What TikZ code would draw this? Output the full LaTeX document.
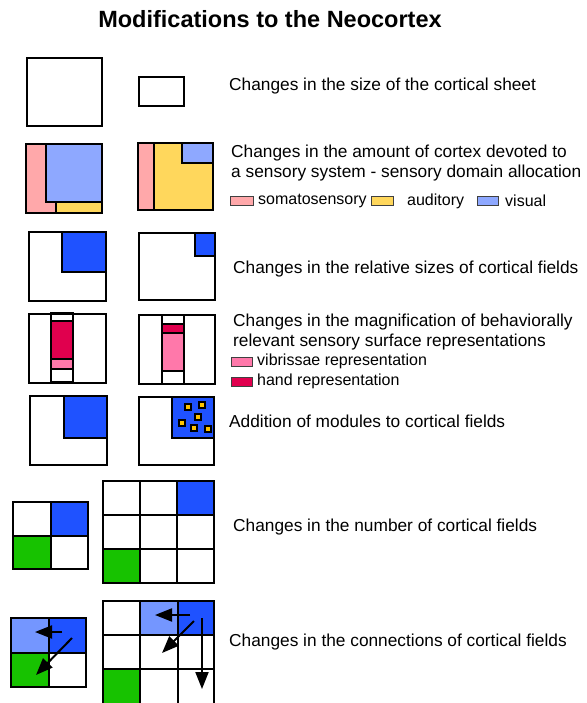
\documentclass[tikz,border=0pt]{standalone}
\usepackage{fontspec}
\setmainfont{Liberation Sans}
\usetikzlibrary{arrows.meta}
\definecolor{somacol}{HTML}{FFA8AA}
\definecolor{auditcol}{HTML}{FFD75C}
\definecolor{visualcol}{HTML}{8EA8FF}
\definecolor{fieldcol}{HTML}{1F52FF}
\definecolor{linkcol}{HTML}{7496FF}
\definecolor{handcol}{HTML}{E0004E}
\definecolor{vibrcol}{HTML}{FF78AA}
\definecolor{greencol}{HTML}{17C200}
\definecolor{modcol}{HTML}{FFC400}
\begin{document}
\begin{tikzpicture}[x=1pt, y=-1pt,
	sheet/.style={draw=black, line width=1.6pt},
	caption/.style={anchor=west, inner sep=0pt, align=left, font=\fontsize{17.3}{20}\selectfont},
	keytext/.style={anchor=west, inner sep=0pt, font=\fontsize{16}{19}\selectfont},
	keybox/.style={draw=black!75, line width=0.8pt},
	module/.style={draw=black, line width=1.2pt, fill=modcol},
	link/.style={-{Triangle[length=17pt,width=13pt]}, line width=2pt}]
	\useasboundingbox (0,0) rectangle (586,703);
	
	% Tiêu đề
	\node[font=\fontsize{23.5}{28}\selectfont\bfseries] (title) at (270,19) {Modifications to the Neocortex};
	
	% Hàng 1: kích thước vỏ não
	\draw[sheet] (27,58) rectangle (102,126);
	\draw[sheet] (139,77) rectangle (184,106);
	\node[caption] (sizetxt) at (229,86) {Changes in the size of the cortical sheet};
	
	% Hàng 2: phân chia theo giác quan
	\filldraw[sheet, fill=somacol] (26,144) -- (46,144) -- (46,202) -- (56,202) -- (56,213) -- (26,213) -- cycle;
	\filldraw[sheet, fill=visualcol] (46,144) rectangle (102,202);
	\filldraw[sheet, fill=auditcol] (56,202) rectangle (102,213);
	\draw[sheet] (26,144) rectangle (102,213);
	\filldraw[sheet, fill=somacol] (138,143) rectangle (154,210);
	\filldraw[sheet, fill=auditcol] (154,143) rectangle (213,210);
	\filldraw[sheet, fill=visualcol] (182,143) rectangle (213,163);
	\draw[sheet] (138,143) rectangle (213,210);
	\node[caption] (amounttxt) at (231,163) {Changes in the amount of cortex devoted to\\a sensory system - sensory domain allocation};
	\draw[keybox, fill=somacol] (230,196) rectangle (253,205);
	\node[keytext] (somatxt) at (258,201) {somatosensory};
	\draw[keybox, fill=auditcol] (371,196) rectangle (393,205);
	\node[keytext] (audittxt) at (407,201) {auditory};
	\draw[keybox, fill=visualcol] (477,196) rectangle (498,205);
	\node[keytext] (visualtxt) at (505,201) {visual};
	
	% Hàng 3: kích thước tương đối
	\filldraw[sheet, fill=fieldcol] (62,232) rectangle (106,272);
	\draw[sheet] (29,232) rectangle (106,301);
	\filldraw[sheet, fill=fieldcol] (195,233) rectangle (215,256);
	\draw[sheet] (139,233) rectangle (215,300);
	\node[caption] (relativetxt) at (233,269) {Changes in the relative sizes of cortical fields};
	
	% Hàng 4: phóng đại biểu diễn
	\draw[sheet] (29,314) rectangle (106,383);
	\draw[sheet] (51,313) rectangle (73,321);
	\filldraw[sheet, fill=handcol] (51,321) rectangle (73,359);
	\filldraw[sheet, fill=vibrcol] (51,359) rectangle (73,369);
	\draw[sheet] (51,369) rectangle (73,382);
	\draw[sheet] (139,315) rectangle (215,384);
	\draw[sheet] (162,315) rectangle (184,324);
	\filldraw[sheet, fill=handcol] (162,324) rectangle (184,333);
	\filldraw[sheet, fill=vibrcol] (162,333) rectangle (184,371);
	\draw[sheet] (162,371) rectangle (184,384);
	\node[caption] (magnifytxt) at (233,332) {Changes in the magnification of behaviorally\\relevant sensory surface representations};
	\draw[keybox, fill=vibrcol] (231,357) rectangle (252,366);
	\node[keytext] (vibrtxt) at (257,361) {vibrissae representation};
	\draw[keybox, fill=handcol] (231,377) rectangle (252,386);
	\node[keytext] (handtxt) at (257,381) {hand representation};
	
	% Hàng 5: thêm mô-đun
	\filldraw[sheet, fill=fieldcol] (64,396) rectangle (107,438);
	\draw[sheet] (30,396) rectangle (107,465);
	\filldraw[sheet, fill=fieldcol] (172,397) rectangle (214,438);
	\draw[sheet] (139,397) rectangle (214,465);
	\foreach \mx/\my in {188/407, 202/405, 198/417, 182/423, 194/428, 208/429}
		\draw[module] (\mx-3,\my-3) rectangle ++(6,6);
	\node[caption] (moduletxt) at (229,421) {Addition of modules to cortical fields};
	
	% Hàng 6: số lượng vùng
	\filldraw[sheet, fill=fieldcol] (51,502) rectangle (88,536);
	\filldraw[sheet, fill=greencol] (13,536) rectangle (51,569);
	\draw[sheet] (13,502) rectangle (88,569);
	\draw[sheet] (51,502) -- (51,569) (13,536) -- (88,536);
	\filldraw[sheet, fill=fieldcol] (177,481) rectangle (214,515);
	\filldraw[sheet, fill=greencol] (103,549) rectangle (140,583);
	\draw[sheet] (103,481) rectangle (214,583);
	\foreach \gx in {140,177} \draw[sheet] (\gx,481) -- (\gx,583);
	\foreach \gy in {515,549} \draw[sheet] (103,\gy) -- (214,\gy);
	\node[caption] (numbertxt) at (233,527) {Changes in the number of cortical fields};
	
	% Hàng 7: kết nối giữa các vùng
	\filldraw[sheet, fill=linkcol] (11,618) rectangle (49,653);
	\filldraw[sheet, fill=fieldcol] (49,618) rectangle (86,653);
	\filldraw[sheet, fill=greencol] (11,653) rectangle (49,687);
	\draw[sheet] (11,618) rectangle (86,687);
	\draw[sheet] (49,618) -- (49,687) (11,653) -- (86,653);
	\filldraw[sheet, fill=linkcol] (140,601) rectangle (178,635);
	\filldraw[sheet, fill=fieldcol] (178,601) rectangle (214,635);
	\filldraw[sheet, fill=greencol] (103,669) rectangle (140,705);
	\draw[sheet] (103,601) rectangle (214,705);
	\foreach \gx in {140,178} \draw[sheet] (\gx,601) -- (\gx,705);
	\foreach \gy in {635,669} \draw[sheet] (103,\gy) -- (214,\gy);
	
	% Mũi tên kết nối
	\coordinate (l-from) at (62,632);
	\coordinate (l-left) at (35,632);
	\coordinate (l-diag) at (72,638);
	\coordinate (l-down) at (36,675);
	\coordinate (r-from) at (190,615);
	\coordinate (r-left) at (155,615);
	\coordinate (r-diag) at (194,621);
	\coordinate (r-mid) at (162,653);
	\coordinate (r-top) at (202,618);
	\coordinate (r-bottom) at (202,689);
	\draw[link] (l-from) -- (l-left);
	\draw[link] (l-diag) -- (l-down);
	\draw[link] (r-from) -- (r-left);
	\draw[link] (r-diag) -- (r-mid);
	\draw[link] (r-top) -- (r-bottom);
	\node[caption] (linktxt) at (229,642) {Changes in the connections of cortical fields};
\end{tikzpicture}
\end{document}
